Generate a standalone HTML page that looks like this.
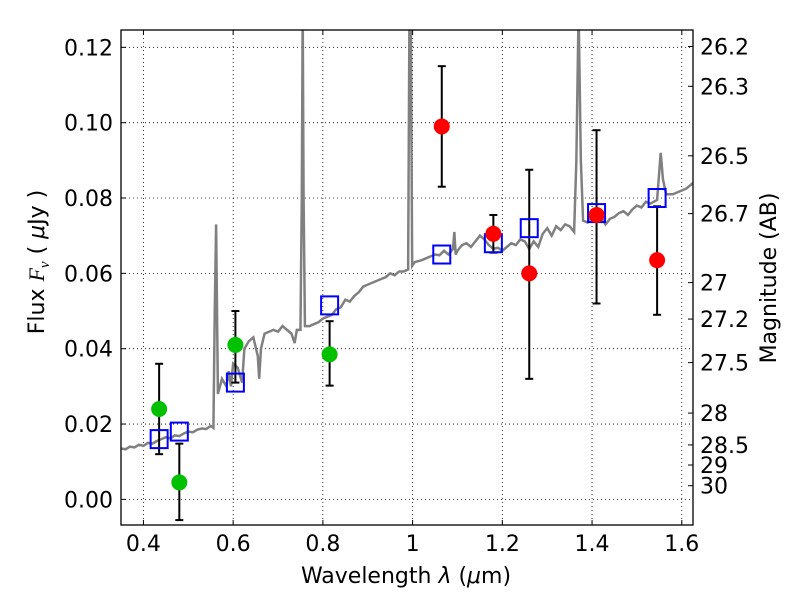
<!DOCTYPE html>
<html><head><meta charset="utf-8"><style>
body{margin:0;background:#fff;}
svg text{font-family:"DejaVu Sans","Liberation Sans",sans-serif;fill:#000;}
</style></head><body>
<svg id="chart" width="800" height="600" viewBox="0 0 800 600" xmlns="http://www.w3.org/2000/svg">
<rect width="800" height="600" fill="#fff"/>
<g id="grid"></g>
<clipPath id="clip"><rect x="121" y="30" width="572" height="495"/></clipPath>
<g id="spec" clip-path="url(#clip)"></g>
<g id="marks" clip-path="url(#clip)"></g>
<rect x="121" y="30" width="572" height="495" fill="none" stroke="#000" stroke-width="1.3"/>
<g id="axes"></g>
<text x="406" y="583" font-size="22" text-anchor="middle">Wavelength  <tspan font-style="italic">λ</tspan> (<tspan font-style="italic">μ</tspan>m)</text>
<text transform="translate(44,262) rotate(-90)" font-size="22" text-anchor="middle">Flux  <tspan font-family="Liberation Serif" font-style="italic">F<tspan font-size="15" dy="5">ν</tspan></tspan><tspan dy="-5">  ( </tspan><tspan font-style="italic">μ</tspan>Jy )</text>
<text transform="translate(776,278) rotate(-90)" font-size="22" text-anchor="middle">Magnitude (AB)</text>
</svg>
<script>
const xTicks=[0.4,0.6,0.8,1.0,1.2,1.4,1.6];
const xTickLabels=["0.4","0.6","0.8","1","1.2","1.4","1.6"];
const yTicks=[0,0.02,0.04,0.06,0.08,0.10,0.12];
const yTickLabels=["0.00","0.02","0.04","0.06","0.08","0.10","0.12"];
const magTicks=[26.2,26.3,26.5,26.7,27,27.2,27.5,28,28.5,29,30];
const magLabels=["26.2","26.3","26.5","26.7","27","27.2","27.5","28","28.5","29","30"];
const greenX=[0.435,0.48,0.605,0.815];
const greenY=[0.024,0.0045,0.041,0.0385];
const greenLo=[0.012,-0.0055,0.031,0.0302];
const greenHi=[0.036,0.0148,0.050,0.0473];
const redX=[1.065,1.18,1.26,1.41,1.545];
const redY=[0.099,0.0705,0.060,0.0755,0.0635];
const redLo=[0.083,0.0655,0.032,0.052,0.049];
const redHi=[0.115,0.0755,0.0875,0.098,0.0778];
const modelX=[0.435,0.48,0.605,0.815,1.065,1.18,1.26,1.41,1.545];
const modelY=[0.016,0.018,0.031,0.0515,0.065,0.068,0.072,0.076,0.080];
const specW=[0.35,0.36,0.37,0.38,0.39,0.40,0.41,0.42,0.43,0.44,0.45,0.46,0.47,0.48,0.49,0.50,0.51,0.52,0.53,0.54,0.55,0.556,0.559,0.562,0.566,0.575,0.585,0.59,0.595,0.60,0.61,0.62,0.625,0.635,0.645,0.655,0.658,0.662,0.67,0.68,0.69,0.70,0.71,0.72,0.73,0.737,0.742,0.75,0.753,0.755,0.757,0.76,0.77,0.78,0.79,0.80,0.81,0.82,0.83,0.84,0.85,0.86,0.87,0.88,0.89,0.90,0.91,0.92,0.93,0.94,0.95,0.96,0.97,0.98,0.99,0.993,0.996,0.999,1.005,1.02,1.03,1.04,1.05,1.06,1.07,1.08,1.09,1.093,1.096,1.10,1.11,1.12,1.13,1.14,1.15,1.16,1.17,1.18,1.19,1.20,1.21,1.22,1.23,1.24,1.25,1.26,1.27,1.28,1.29,1.30,1.31,1.32,1.33,1.34,1.35,1.36,1.365,1.37,1.375,1.38,1.39,1.40,1.41,1.42,1.43,1.44,1.45,1.46,1.47,1.48,1.49,1.50,1.51,1.52,1.53,1.545,1.553,1.558,1.565,1.58,1.59,1.60,1.61,1.625];
const specF=[0.0135,0.0133,0.014,0.0138,0.0145,0.0142,0.015,0.0148,0.0155,0.016,0.0165,0.0162,0.017,0.0168,0.0175,0.018,0.0178,0.0185,0.0188,0.0187,0.0195,0.019,0.050,0.073,0.028,0.032,0.030,0.034,0.030,0.036,0.035,0.031,0.040,0.042,0.043,0.038,0.032,0.040,0.044,0.0445,0.045,0.0445,0.046,0.045,0.044,0.0415,0.045,0.045,0.08,0.13,0.08,0.046,0.046,0.0465,0.047,0.048,0.0485,0.049,0.0505,0.051,0.053,0.0525,0.054,0.055,0.0565,0.057,0.0575,0.058,0.0585,0.059,0.060,0.0595,0.0605,0.0605,0.061,0.13,0.13,0.062,0.063,0.0635,0.064,0.0645,0.065,0.0648,0.066,0.065,0.0665,0.071,0.065,0.066,0.0675,0.068,0.067,0.0685,0.070,0.069,0.0675,0.0665,0.0668,0.066,0.067,0.068,0.0675,0.069,0.0685,0.0665,0.0685,0.067,0.0705,0.072,0.070,0.0725,0.0715,0.073,0.0725,0.071,0.09,0.13,0.09,0.074,0.0735,0.075,0.074,0.075,0.073,0.0745,0.075,0.076,0.0765,0.0755,0.077,0.078,0.0775,0.079,0.0785,0.0795,0.092,0.085,0.081,0.081,0.0815,0.082,0.0825,0.084];
const X0=0.35,X1=1.625,Y0=-0.0068,Y1=0.1246,L=121,R=693,T=30,B=525;
const sx=v=>L+(v-X0)/(X1-X0)*(R-L);
const sy=v=>B-(v-Y0)/(Y1-Y0)*(B-T);
const NS="http://www.w3.org/2000/svg";
function mk(tag,attrs,parent){const e=document.createElementNS(NS,tag);for(const k in attrs)e.setAttribute(k,attrs[k]);parent.appendChild(e);return e;}
const grid=document.getElementById('grid'),axes=document.getElementById('axes'),spec=document.getElementById('spec'),marks=document.getElementById('marks');
xTicks.forEach((v,i)=>{const x=sx(v);
 const g=mk('line',{x1:x,x2:x,y1:T,y2:B,stroke:'#000','stroke-width':0.8,'stroke-dasharray':'1,3'},grid);
 
 
 mk('line',{x1:x,x2:x,y1:B,y2:B-5,stroke:'#000'},axes);
 mk('line',{x1:x,x2:x,y1:T,y2:T+5,stroke:'#000'},axes);
 const t=mk('text',{x:x,y:B+26,'font-size':22,'text-anchor':'middle'},axes);t.textContent=xTickLabels[i];
 
 
});
yTicks.forEach((v,i)=>{const y=sy(v);
 const g=mk('line',{x1:L,x2:R,y1:y,y2:y,stroke:'#000','stroke-width':0.8,'stroke-dasharray':'1,3'},grid);
 
 
 mk('line',{x1:L,x2:L+5,y1:y,y2:y,stroke:'#000'},axes);
 const t=mk('text',{x:L-8,y:y+8,'font-size':22,'text-anchor':'end'},axes);t.textContent=yTickLabels[i];
 
 
});
magTicks.forEach((m,i)=>{const f=Math.pow(10,(23.9-m)/2.5);const y=sy(f);
 mk('line',{x1:R,x2:R-5,y1:y,y2:y,stroke:'#000'},axes);
 const t=mk('text',{x:R+7,y:y+8,'font-size':22},axes);t.textContent=magLabels[i];
 
 
});
const sp=mk('polyline',{points:specW.map((w,i)=>sx(w)+','+sy(specF[i])).join(' '),fill:'none',stroke:'#808080','stroke-width':2.5},spec);


function errbar(x,lo,hi){const X=sx(x);
 mk('line',{x1:X,x2:X,y1:sy(lo),y2:sy(hi),stroke:'#000','stroke-width':2},marks);
 mk('line',{x1:X-4,x2:X+4,y1:sy(lo),y2:sy(lo),stroke:'#000','stroke-width':2},marks);
 mk('line',{x1:X-4,x2:X+4,y1:sy(hi),y2:sy(hi),stroke:'#000','stroke-width':2},marks);}
greenX.forEach((x,i)=>errbar(x,greenLo[i],greenHi[i]));
redX.forEach((x,i)=>errbar(x,redLo[i],redHi[i]));
modelX.forEach((x,i)=>{const r=mk('rect',{x:sx(x)-8.5,y:sy(modelY[i])-9,width:17,height:18,fill:'none',stroke:'#0000ff','stroke-width':2},marks);
 
 
});
greenX.forEach((x,i)=>{const c=mk('circle',{cx:sx(x),cy:sy(greenY[i]),r:8,fill:'#00c000'},marks);
 
 
});
redX.forEach((x,i)=>{const c=mk('circle',{cx:sx(x),cy:sy(redY[i]),r:8,fill:'#ff0000'},marks);
 
 
});
</script>
</body></html>
